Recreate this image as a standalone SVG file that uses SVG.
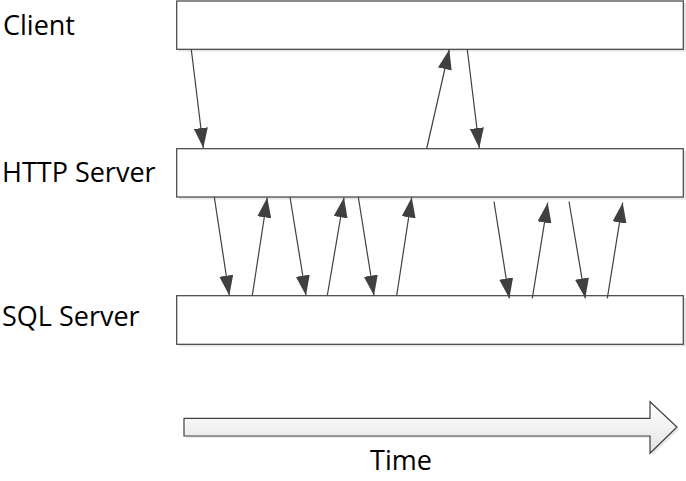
<svg xmlns="http://www.w3.org/2000/svg" width="686" height="481" viewBox="0 0 686 481">
<defs>
<style>
.box{fill:#ffffff;stroke:#404040;stroke-width:1.2}
.shadow{fill:#e6e6e6}
.lbl{font-family:"Open Sans","Liberation Sans",sans-serif;font-size:27px;fill:#000}
.msg{stroke:#404040;stroke-width:1.2;fill:none;marker-end:url(#ah)}
</style>
<marker id="ah" markerUnits="userSpaceOnUse" markerWidth="20" markerHeight="14" refX="20" refY="7" orient="auto">
<path d="M0,0 L20,7 L0,14 Z" fill="#404040"/>
</marker>
<linearGradient id="tg" x1="0" y1="0" x2="0" y2="1">
<stop offset="0" stop-color="#ffffff"/>
<stop offset="1" stop-color="#e4e4e4"/>
</linearGradient>
</defs>
<rect width="686" height="481" fill="#ffffff"/>

<g id="client">
<rect class="shadow" x="179" y="3" width="507" height="48.5"/>
<rect class="box" x="176.7" y="1" width="506.6" height="48.3"/>
<text class="lbl" x="3" y="35">Client</text>
</g>

<g id="http-server">
<rect class="shadow" x="179" y="151" width="507" height="48.5"/>
<rect class="box" x="176.7" y="148.7" width="506.6" height="48.3"/>
<text class="lbl" x="2" y="182">HTTP Server</text>
</g>

<g id="sql-server">
<rect class="shadow" x="179" y="298" width="507" height="48.5"/>
<rect class="box" x="176.7" y="295.7" width="506.6" height="48.6"/>
<text class="lbl" x="2" y="326">SQL Server</text>
</g>

<g id="time">
<path d="M186,420.5 L652,420.5 L652,404 L679,429.5 L652,455.5 L652,438 L186,438 Z" fill="#e8e8e8"/>
<path d="M184,418.3 L650,418.3 L650,401.7 L677,427 L650,453.3 L650,436 L184,436 Z" fill="url(#tg)" stroke="#404040" stroke-width="1.2"/>
<text class="lbl" x="401" y="470" text-anchor="middle">Time</text>
</g>

<g id="connectors">
<line class="msg" x1="191.3" y1="49.5" x2="203.3" y2="148"/>
<line class="msg" x1="426.7" y1="148.5" x2="449.3" y2="49.5"/>
<line class="msg" x1="467.3" y1="49.5" x2="479.3" y2="148"/>

<line class="msg" x1="214.3" y1="197" x2="229.3" y2="295.5"/>
<line class="msg" x1="252.3" y1="295.5" x2="267.3" y2="197.5"/>
<line class="msg" x1="290" y1="197" x2="306" y2="295.5"/>
<line class="msg" x1="327.3" y1="295.5" x2="344" y2="197.5"/>
<line class="msg" x1="358.3" y1="197" x2="374" y2="295.5"/>
<line class="msg" x1="396.7" y1="295.5" x2="411.7" y2="197.5"/>

<line class="msg" x1="494" y1="201.5" x2="509.3" y2="298.3"/>
<line class="msg" x1="532.3" y1="298.3" x2="547.7" y2="202.7"/>
<line class="msg" x1="569" y1="201.5" x2="585.3" y2="298.3"/>
<line class="msg" x1="607.3" y1="298.3" x2="622.7" y2="202.7"/>
</g>
</svg>
